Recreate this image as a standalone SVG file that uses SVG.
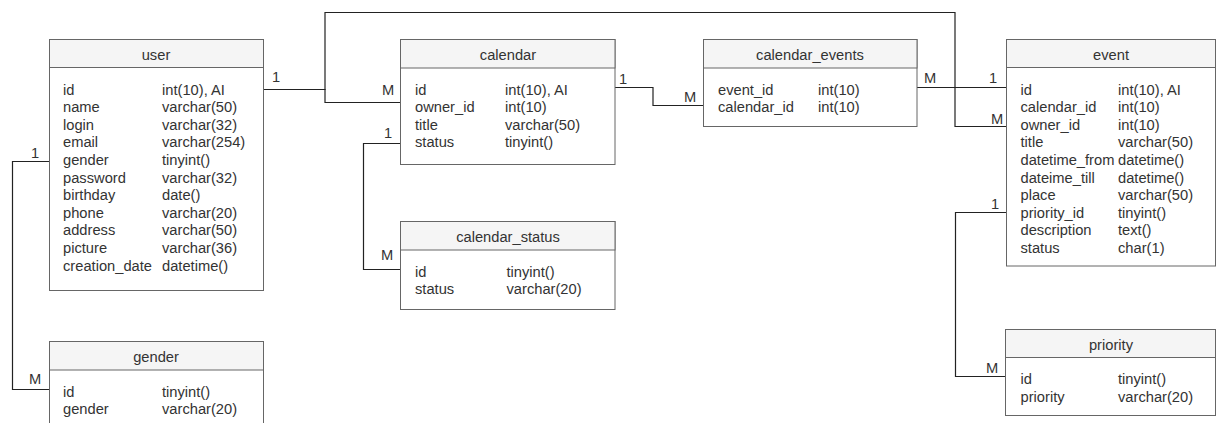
<svg xmlns="http://www.w3.org/2000/svg" width="1216" height="423" viewBox="0 0 1216 423">
<style>
.box{fill:#ffffff;stroke:#666666;stroke-width:1}
.hdr{fill:#f5f5f5;stroke:#666666;stroke-width:1}
.t{font-family:"Liberation Sans",Arial,sans-serif;font-size:14.7px;fill:#333333}
.h{font-family:"Liberation Sans",Arial,sans-serif;font-size:14.7px;fill:#333333;text-anchor:middle}
.lbl{font-family:"Liberation Sans",Arial,sans-serif;font-size:14.7px;fill:#333333;text-anchor:middle}
.edge{fill:none;stroke:#222222;stroke-width:1.2}
</style>
<rect width="1216" height="423" fill="#ffffff"/>
<g id="connectors">
<path class="edge" d="M263,89.5 H325 V102.5 H400.5"/>
<path class="edge" d="M263,89.5 H325 V12.5 H955 V126.5 H1006"/>
<path class="edge" d="M615,87.5 H653 V105.5 H703"/>
<path class="edge" d="M917,87.5 H1006"/>
<path class="edge" d="M400.5,143.5 H363.5 V269.5 H400.5"/>
<path class="edge" d="M49,161.5 H12.5 V389.5 H49"/>
<path class="edge" d="M1006,212.5 H955.5 V376.5 H1005"/>
<text class="lbl" x="276" y="82">1</text>
<text class="lbl" x="388" y="95">M</text>
<text class="lbl" x="623" y="84">1</text>
<text class="lbl" x="690" y="102">M</text>
<text class="lbl" x="930" y="83">M</text>
<text class="lbl" x="993" y="83">1</text>
<text class="lbl" x="997" y="124">M</text>
<text class="lbl" x="388" y="138">1</text>
<text class="lbl" x="387" y="260">M</text>
<text class="lbl" x="35" y="158">1</text>
<text class="lbl" x="35" y="384">M</text>
<text class="lbl" x="995" y="209">1</text>
<text class="lbl" x="992" y="373">M</text>
</g>
<g id="user">
<rect class="box" x="49.5" y="39.5" width="214" height="251"/>
<rect class="hdr" x="49.5" y="39.5" width="214" height="28"/>
<text class="h" x="156" y="60">user</text>
<text class="t" x="63" y="94.5">id</text><text class="t" x="162" y="94.5">int(10), AI</text>
<text class="t" x="63" y="112.1">name</text><text class="t" x="162" y="112.1">varchar(50)</text>
<text class="t" x="63" y="129.7">login</text><text class="t" x="162" y="129.7">varchar(32)</text>
<text class="t" x="63" y="147.3">email</text><text class="t" x="162" y="147.3">varchar(254)</text>
<text class="t" x="63" y="164.9">gender</text><text class="t" x="162" y="164.9">tinyint()</text>
<text class="t" x="63" y="182.5">password</text><text class="t" x="162" y="182.5">varchar(32)</text>
<text class="t" x="63" y="200.1">birthday</text><text class="t" x="162" y="200.1">date()</text>
<text class="t" x="63" y="217.7">phone</text><text class="t" x="162" y="217.7">varchar(20)</text>
<text class="t" x="63" y="235.3">address</text><text class="t" x="162" y="235.3">varchar(50)</text>
<text class="t" x="63" y="252.9">picture</text><text class="t" x="162" y="252.9">varchar(36)</text>
<text class="t" x="63" y="270.5">creation_date</text><text class="t" x="162" y="270.5">datetime()</text>
</g>
<g id="calendar">
<rect class="box" x="400.5" y="39.5" width="214.5" height="125"/>
<rect class="hdr" x="400.5" y="39.5" width="214.5" height="28.5"/>
<text class="h" x="508" y="60">calendar</text>
<text class="t" x="415" y="94.5">id</text><text class="t" x="505" y="94.5">int(10), AI</text>
<text class="t" x="415" y="112.1">owner_id</text><text class="t" x="505" y="112.1">int(10)</text>
<text class="t" x="415" y="129.7">title</text><text class="t" x="505" y="129.7">varchar(50)</text>
<text class="t" x="415" y="147.3">status</text><text class="t" x="505" y="147.3">tinyint()</text>
</g>
<g id="calendar_events">
<rect class="box" x="703.5" y="39.5" width="213.5" height="87"/>
<rect class="hdr" x="703.5" y="39.5" width="213.5" height="28.5"/>
<text class="h" x="810" y="60">calendar_events</text>
<text class="t" x="718" y="94.5">event_id</text><text class="t" x="818" y="94.5">int(10)</text>
<text class="t" x="718" y="112.1">calendar_id</text><text class="t" x="818" y="112.1">int(10)</text>
</g>
<g id="event">
<rect class="box" x="1006.5" y="39.5" width="209" height="226.5"/>
<rect class="hdr" x="1006.5" y="39.5" width="209" height="28"/>
<text class="h" x="1111" y="60">event</text>
<text class="t" x="1020.5" y="94.5">id</text><text class="t" x="1118" y="94.5">int(10), AI</text>
<text class="t" x="1020.5" y="112.1">calendar_id</text><text class="t" x="1118" y="112.1">int(10)</text>
<text class="t" x="1020.5" y="129.7">owner_id</text><text class="t" x="1118" y="129.7">int(10)</text>
<text class="t" x="1020.5" y="147.3">title</text><text class="t" x="1118" y="147.3">varchar(50)</text>
<text class="t" x="1020.5" y="164.9">datetime_from</text><text class="t" x="1118" y="164.9">datetime()</text>
<text class="t" x="1020.5" y="182.5">dateime_till</text><text class="t" x="1118" y="182.5">datetime()</text>
<text class="t" x="1020.5" y="200.1">place</text><text class="t" x="1118" y="200.1">varchar(50)</text>
<text class="t" x="1020.5" y="217.7">priority_id</text><text class="t" x="1118" y="217.7">tinyint()</text>
<text class="t" x="1020.5" y="235.3">description</text><text class="t" x="1118" y="235.3">text()</text>
<text class="t" x="1020.5" y="252.9">status</text><text class="t" x="1118" y="252.9">char(1)</text>
</g>
<g id="calendar_status">
<rect class="box" x="400.5" y="221.5" width="214.5" height="88"/>
<rect class="hdr" x="400.5" y="221.5" width="214.5" height="28.5"/>
<text class="h" x="508" y="242">calendar_status</text>
<text class="t" x="415" y="276.7">id</text><text class="t" x="506.5" y="276.7">tinyint()</text>
<text class="t" x="415" y="294.3">status</text><text class="t" x="506.5" y="294.3">varchar(20)</text>
</g>
<g id="gender">
<rect class="box" x="49.5" y="341.5" width="214" height="100"/>
<rect class="hdr" x="49.5" y="341.5" width="214" height="28.5"/>
<text class="h" x="156" y="362">gender</text>
<text class="t" x="63" y="396.7">id</text><text class="t" x="162" y="396.7">tinyint()</text>
<text class="t" x="63" y="414.3">gender</text><text class="t" x="162" y="414.3">varchar(20)</text>
</g>
<g id="priority">
<rect class="box" x="1005.5" y="329.5" width="210" height="86"/>
<rect class="hdr" x="1005.5" y="329.5" width="210" height="28"/>
<text class="h" x="1111" y="350">priority</text>
<text class="t" x="1020.5" y="384">id</text><text class="t" x="1118" y="384">tinyint()</text>
<text class="t" x="1020.5" y="401.6">priority</text><text class="t" x="1118" y="401.6">varchar(20)</text>
</g>
</svg>
